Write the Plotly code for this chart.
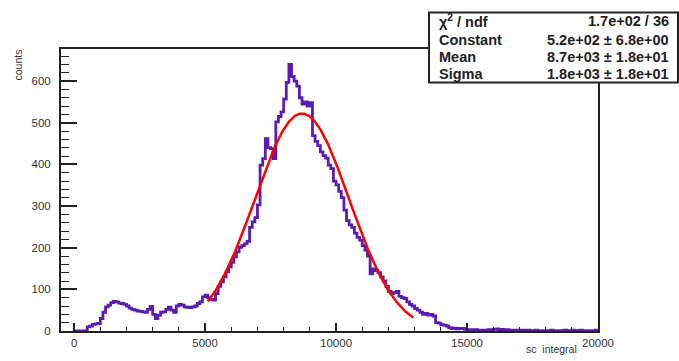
import plotly.graph_objects as go
import numpy as np

# ---- data ----
bin_width = 100
x_start = 0
counts = [
    0, 0, 0, 0, 0, 10, 12, 16, 17, 18,
    30, 45, 58, 62, 68, 71, 70, 67, 66, 64,
    60, 55, 52, 50, 48, 47, 46, 45, 52, 59,
    40, 30, 38, 45, 46, 52, 57, 50, 45, 60,
    64, 62, 58, 57, 56, 58, 60, 66, 70, 82,
    86, 80, 76, 74, 90, 107, 118, 130, 142, 154,
    165, 178, 190, 201, 205, 209, 215, 249, 262, 272,
    303, 398, 414, 462, 440, 438, 414, 502, 515, 526,
    557, 597, 640, 611, 600, 588, 560, 545, 550, 540,
    548, 469, 455, 445, 430, 421, 415, 398, 390, 360,
    351, 335, 320, 290, 265, 255, 249, 235, 225, 218,
    205, 194, 180, 137, 149, 145, 140, 130, 120, 107,
    95, 90, 92, 95, 83, 80, 78, 70, 64, 60,
    54, 50, 45, 40, 42, 38, 40, 36, 20, 19,
    15, 14, 12, 8, 6, 7, 5, 6, 6, 4,
    3, 3, 2, 3, 2, 1, 2, 2, 3, 2,
    4, 5, 3, 4, 2, 3, 2, 1, 2, 2,
    1, 2, 1, 2, 1, 1, 2, 1, 0, 1,
    1, 1, 2, 1, 1, 0, 1, 2, 1, 1,
    2, 1, 1, 2, 1, 1, 0, 1, 1, 2,
]
fit_constant = 522
fit_mean = 8700
fit_sigma = 1800
fit_range = [5100, 12950]

stats_labels = ["\u03c7<sup>2</sup> / ndf", "Constant", "Mean", "Sigma"]
stats_values = ["1.7e+02 / 36", "5.2e+02 \u00b1 6.8e+00",
                "8.7e+03 \u00b1 1.8e+01", "1.8e+03 \u00b1 1.8e+01"]
x_tickvals = [0, 5000, 10000, 15000, 20000]
x_ticktext = ["0", "5000", "10000", "15000", "20000"]
y_tickvals = [0, 100, 200, 300, 400, 500, 600]
y_ticktext = ["0", "100", "200", "300", "400", "500", "600"]
x_title = "sc\u00a0\u00a0integral"
y_title = "counts"

# ---- build figure ----
W, H = 679, 361
L, R, T, B = 61, 598, 49, 335

edges = [x_start + i * bin_width for i in range(len(counts) + 1)]
hx = edges
hy = counts + [counts[-1]]

fx = np.linspace(fit_range[0], fit_range[1], 300)
fy = fit_constant * np.exp(-0.5 * ((fx - fit_mean) / fit_sigma) ** 2)

fig = go.Figure()
fig.add_trace(go.Scatter(x=hx, y=hy, mode="lines", line_shape="hv",
                         line=dict(color="#5a1cb4", width=2.8), hoverinfo="skip"))
fig.add_trace(go.Scatter(x=fx, y=fy, mode="lines",
                         line=dict(color="#ff0000", width=2.5), hoverinfo="skip"))

font = "Liberation Sans, Arial, sans-serif"
fig.update_layout(
    width=W, height=H,
    margin=dict(l=L, r=W - R, t=T, b=H - B, pad=0),
    paper_bgcolor="white", plot_bgcolor="white",
    showlegend=False,
    font=dict(family=font, size=12, color="#222"),
    xaxis=dict(range=[-500, 20000], tickmode="array", tickvals=x_tickvals, ticktext=x_ticktext,
               ticks="inside", ticklen=8, tickwidth=1.5, tickcolor="#222",
               minor=dict(dtick=1000, tick0=0, ticks="inside", ticklen=4, tickwidth=1, tickcolor="#222"),
               showgrid=False, zeroline=False, showline=True, linecolor="#222", linewidth=2,
               mirror=True, tickfont=dict(size=11.5, color="#333")),
    yaxis=dict(range=[0, 677], tickmode="array", tickvals=y_tickvals, ticktext=y_ticktext,
               ticks="inside", ticklen=16, tickwidth=1.5, tickcolor="#222",
               minor=dict(dtick=20, tick0=0, ticks="inside", ticklen=8, tickwidth=1, tickcolor="#222"),
               showgrid=False, zeroline=False, showline=True, linecolor="#222", linewidth=2,
               mirror=True, tickfont=dict(size=11.5, color="#333"), ticklabelstandoff=6),
)

def px2paper_x(px):
    return (px - L) / (R - L)

def py2paper_y(py):
    return (B - py) / (B - T)

# axis titles
fig.add_annotation(text=x_title, xref="paper", yref="paper",
                   x=px2paper_x(579), y=py2paper_y(361), xanchor="right", yanchor="bottom",
                   showarrow=False, font=dict(size=10.5, color="#333"))
fig.add_annotation(text=y_title, xref="paper", yref="paper",
                   x=px2paper_x(18), y=py2paper_y(48), xanchor="center", yanchor="top",
                   textangle=-90, showarrow=False, font=dict(size=10.5, color="#333"))

# stats box
bx0, bx1, by0, by1 = 429, 678, 12, 83
fig.add_shape(type="rect", xref="paper", yref="paper",
              x0=px2paper_x(bx0), x1=px2paper_x(bx1), y0=py2paper_y(by1), y1=py2paper_y(by0),
              fillcolor="white", line=dict(color="#222", width=2), layer="above")
row_y = [21, 40, 57, 74]
for lab, val, ry in zip(stats_labels, stats_values, row_y):
    fig.add_annotation(text="<b>" + lab + "</b>", xref="paper", yref="paper",
                       x=px2paper_x(437), y=py2paper_y(ry), xanchor="left", yanchor="middle",
                       showarrow=False, font=dict(size=14.5, color="#222"))
    fig.add_annotation(text="<b>" + val + "</b>", xref="paper", yref="paper",
                       x=px2paper_x(671), y=py2paper_y(ry), xanchor="right", yanchor="middle",
                       showarrow=False, font=dict(size=14.5, color="#222"))

fig.write_html("out.html")
